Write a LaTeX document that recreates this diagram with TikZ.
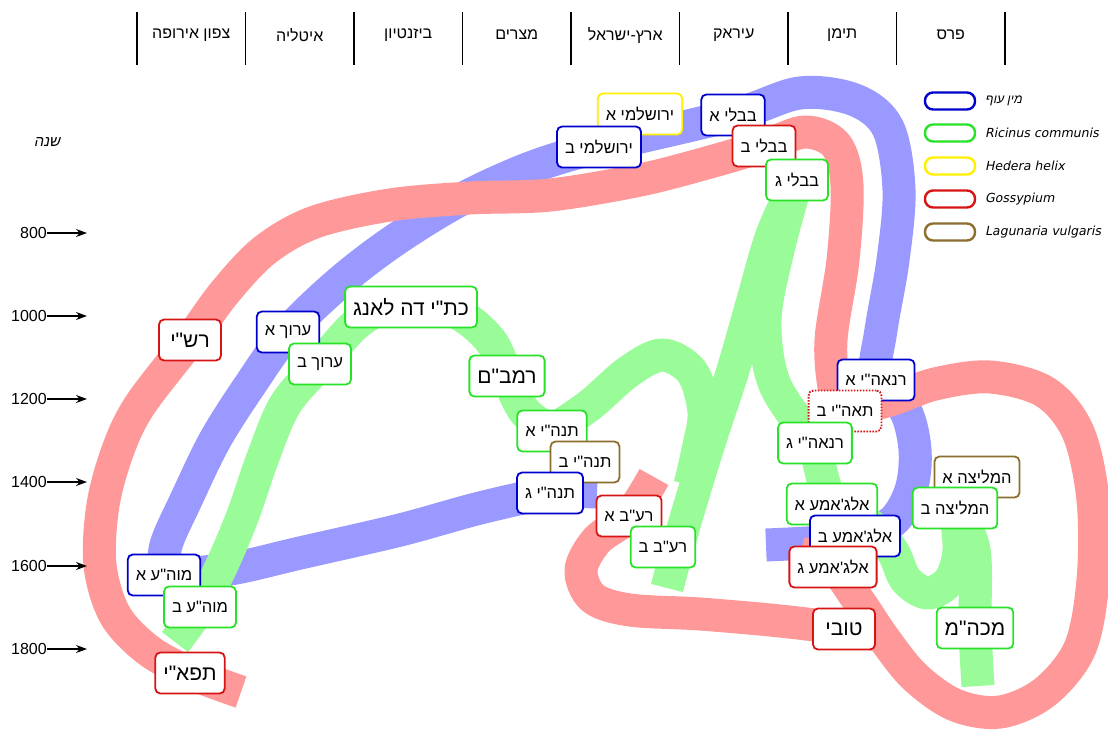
\documentclass[tikz,border=0pt]{standalone}
\usepackage{fontspec}
\setmainfont{Liberation Sans}
\newfontfamily\hebfont[Script=Hebrew]{Liberation Sans}
\newfontfamily\hebslant[Script=Hebrew,FakeSlant=0.2]{Liberation Sans}
\newfontfamily\legfont[FakeSlant=0.2]{DejaVu Sans}
\usetikzlibrary{arrows.meta}
\TeXXeTstate=1
\newcommand\HT[1]{{\hebfont\beginR #1\endR}}
\newcommand\smallsz{\fontsize{16.5}{20}\selectfont}
\newcommand\bigsz{\fontsize{21}{25}\selectfont}
\definecolor{bandR}{RGB}{255,153,153}
\definecolor{bandB}{RGB}{153,153,255}
\definecolor{bandG}{RGB}{153,252,153}
\definecolor{edgeB}{RGB}{0,0,204}
\definecolor{edgeG}{RGB}{40,226,40}
\definecolor{edgeR}{RGB}{214,20,20}
\definecolor{edgeY}{RGB}{255,240,0}
\definecolor{edgeN}{RGB}{140,110,45}
\pgfdeclarelayer{paper}
\pgfdeclarelayer{bands}
\pgfsetlayers{paper,bands,main}
\tikzset{
  band/.style={draw=#1, line width=33pt, line cap=butt, line join=round},
  box/.style={draw=#1, fill=white, line width=1.8pt, rounded corners=5pt,
    minimum height=41pt, minimum width=62pt, inner xsep=8pt, inner ysep=2pt, font=\smallsz},
  bigbox/.style={box=#1, font=\bigsz},
  dotbox/.style={box=#1, dash pattern=on 1.6pt off 1.4pt},
  legbox/.style={draw=#1, line width=2.4pt, rounded corners=8pt, minimum width=50pt, minimum height=17pt, inner sep=0pt},
  legtext/.style={anchor=west, font=\legfont\fontsize{12.5}{14}\selectfont, inner sep=0pt},
  region/.style={font=\fontsize{16}{19}\selectfont},
  sep/.style={line width=1.4pt},
  year/.style={anchor=east, inner sep=0pt, font=\fontsize{16}{19}\selectfont},
  yeararrow/.style={line width=1.4pt, -{Stealth[length=11pt,width=8pt]}},
}
\begin{document}
\begin{tikzpicture}[x=1pt,y=-1pt]
\useasboundingbox (0,0) rectangle (1108,729);
\begin{pgfonlayer}{paper}
  \fill[white] (0,0) rectangle (1108,729);
\end{pgfonlayer}

% header: regions
\foreach \k in {0,...,8} \draw[sep] ({137+108.5*\k},12) -- ({137+108.5*\k},65);
\node[region] (r1) at (191.25,35) {\HT{צפון אירופה}};
\node[region] (r2) at (299.75,35) {\HT{איטליה}};
\node[region] (r3) at (408.25,35) {\HT{ביזנטיון}};
\node[region] (r4) at (516.75,35) {\HT{מצרים}};
\node[region] (r5) at (625.25,35) {\HT{ארץ-ישראל}};
\node[region] (r6) at (733.75,35) {\HT{עיראק}};
\node[region] (r7) at (842.25,35) {\HT{תימן}};
\node[region] (r8) at (950.75,35) {\HT{פרס}};

% time axis
\node[font=\fontsize{15}{17}\selectfont] (axis) at (47,142) {{\hebslant\beginR שנה\endR}};
\foreach \yr/\yy in {800/233,1000/316,1200/399,1400/482,1600/566,1800/649}{
  \node[year] (y\yr) at (47,\yy) {\yr};
  \coordinate (t\yr) at (87,\yy);
  \draw[yeararrow] (y\yr.east) -- (t\yr);
}

% legend
\node[legbox=edgeB] (lb) at (950,101) {};
\node[legbox=edgeG] (lg) at (950,133) {};
\node[legbox=edgeY] (ly) at (950,166) {};
\node[legbox=edgeR] (lr) at (950,199) {};
\node[legbox=edgeN] (ln) at (950,232) {};
\node[legtext] (tb) at (985,101) {{\hebslant\beginR מין עוף\endR}};
\node[legtext] (tg) at (985,133) {Ricinus communis};
\node[legtext] (ty) at (985,166) {Hedera helix};
\node[legtext] (tr) at (985,199) {Gossypium};
\node[legtext] (tn) at (985,232) {Lagunaria vulgaris};

% manuscripts
\node[box=edgeY] (yerA) at (640,114) {\HT{ירושלמי א}};
\node[box=edgeB] (yerB) at (599,147) {\HT{ירושלמי ב}};
\node[box=edgeB] (bavA) at (733,115) {\HT{בבלי א}};
\node[box=edgeR] (bavB) at (764,146) {\HT{בבלי ב}};
\node[box=edgeG] (bavG) at (797,180) {\HT{בבלי ג}};
\node[bigbox=edgeR] (rashi) at (190,340) {\HT{רש"י}};
\node[box=edgeB] (aruA) at (288,332) {\HT{ערוך א}};
\node[box=edgeG] (aruB) at (320,364) {\HT{ערוך ב}};
\node[bigbox=edgeG] (lang) at (411,307) {\HT{כת"י דה לאנג}};
\node[bigbox=edgeG] (rambam) at (507,376) {\HT{רמב"ם}};
\node[box=edgeG] (tanA) at (552,431) {\HT{תנה"י א}};
\node[box=edgeN] (tanB) at (585,462) {\HT{תנה"י ב}};
\node[box=edgeB] (tanG) at (550,493) {\HT{תנה"י ג}};
\node[box=edgeR] (rebA) at (629,516) {\HT{רע"ב א}};
\node[box=edgeG] (rebB) at (663,547) {\HT{רע"ב ב}};
\node[box=edgeB] (ranA) at (876,380) {\HT{רנאה"י א}};
\node[dotbox=edgeR] (taB) at (845,411) {\HT{תאה"י ב}};
\node[box=edgeG] (ranG) at (815,443) {\HT{רנאה"י ג}};
\node[box=edgeG] (algA) at (832,504) {\HT{אלג'אמע א}};
\node[box=edgeB] (algB) at (855,536) {\HT{אלג'אמע ב}};
\node[box=edgeR] (algG) at (833,567) {\HT{אלג'אמע ג}};
\node[box=edgeN] (mlA) at (977,477) {\HT{המליצה א}};
\node[box=edgeG] (mlB) at (955,508) {\HT{המליצה ב}};
\node[bigbox=edgeR] (tovi) at (844,629) {\HT{טובי}};
\node[bigbox=edgeG] (mkhm) at (975,628) {\HT{מכה"מ}};
\node[box=edgeB] (moA) at (164,575) {\HT{מוה"ע א}};
\node[box=edgeG] (moB) at (200,607) {\HT{מוה"ע ב}};
\node[bigbox=edgeR] (tpai) at (190,673) {\HT{תפא"י}};

% transmission bands
\begin{pgfonlayer}{bands}
  % bird species
  \draw[band=bandB] plot[smooth,tension=0.55] coordinates {
    (766,545) (820,542) (algB.center) (892,522) (911,490) (915,450) (905,410)
    (ranA.center) (881,330) (893,260) (899,190) (888,128) (855,100) (800,93)
    (bavA.center) (yerB.center) (530,168) (460,200) (395,240) (340,282)
    (aruA.center) (250,385) (215,440) (186,500) (166,545) (moA.center)};
  \draw[band=bandB] plot[smooth,tension=0.55] coordinates {
    (moA.center) (230,569) (300,553) (400,530) (480,508) (tanG.center) (597,492)};
  % Gossypium
  \draw[band=bandR] plot[smooth,tension=0.55] coordinates {
    (241,692) (tpai.center) (148,650) (115,615) (100,565) (103,505) (118,450)
    (140,405) (rashi.center) (225,292) (265,250) (315,222) (390,205) (470,198)
    (550,195) (640,180) (710,162) (bavB.center) (805,132) (836,145) (847,185)
    (843,260) (831,340) (835,392) (taB.center)};
  \draw[band=bandR] plot[smooth,tension=0.55] coordinates {
    (800,553) (algG.center) (858,600) (885,640) (915,677) (955,705) (1000,712)
    (1045,692) (1080,648) (1093,580) (1093,500) (1078,432) (1045,392) (990,377)
    (935,384) (890,400) (taB.center)};
  \draw[band=bandR] plot[smooth,tension=0.55] coordinates {
    (654,477) (rebA.center) (597,540) (581,570) (593,598) (630,610) (700,614)
    (780,621) (tovi.center) (882,636)};
  % Ricinus communis
  \draw[band=bandG] plot[smooth,tension=0.55] coordinates {
    (175,642) (moB.center) (222,565) (243,515) (262,460) (285,405) (aruB.center)
    (355,325) (385,307) (lang.center) (455,312) (490,340) (rambam.center)
    (525,412) (tanA.center)};
  \draw[band=bandG] plot[smooth,tension=0.55] coordinates {
    (tanA.center) (590,405) (628,372) (662,355) (692,372) (704,412) (698,450) (690,485)};
  \draw[band=bandG] plot[smooth,tension=0.55] coordinates {
    (bavG.center) (772,235) (753,300) (733,370) (710,440) (690,505) (677,550) (667,588)};
  \draw[band=bandG] plot[smooth,tension=0.55] coordinates {
    (bavG.center) (778,250) (765,320) (775,385) (ranG.center)};
  \draw[band=bandG] plot[smooth,tension=0.55] coordinates {
    (ranG.center) (algA.center) (870,525) (893,552) (906,580) (928,593)
    (950,580) (959,550) (mlB.center)};
  \draw[band=bandG] plot[smooth,tension=0.55] coordinates {
    (mlB.center) (974,550) (mkhm.center) (978,686)};
\end{pgfonlayer}
\end{tikzpicture}
\end{document}
